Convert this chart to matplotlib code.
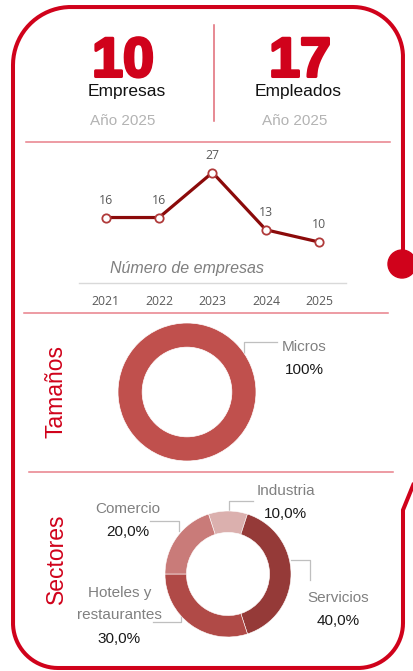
import numpy as np
import matplotlib
matplotlib.use("Agg")
import matplotlib.pyplot as plt
import matplotlib.patheffects as pe

# ---------------- data ----------------
years = ["2021", "2022", "2023", "2024", "2025"]
n_empresas = [16, 16, 27, 13, 10]

kpi_values = ["10", "17"]
kpi_labels = ["Empresas", "Empleados"]
kpi_sub = ["Año 2025", "Año 2025"]

size_labels = ["Micros"]
size_values = [100]

sector_labels = ["Industria", "Servicios", "Hoteles y\nrestaurantes", "Comercio"]
sector_values = [10, 40, 30, 20]
sector_colors = ["#dbb0ae", "#953a38", "#b04a47", "#c97b79"]

# ---------------- figure ----------------
W, H = 414, 671
fig = plt.figure(figsize=(W / 100, H / 100), dpi=100)
fig.patch.set_facecolor("white")

ov = fig.add_axes([0, 0, 1, 1], zorder=0)
ov.set_xlim(0, W)
ov.set_ylim(H, 0)
ov.axis("off")
ov.patch.set_alpha(0)

RED = "#d0021b"
SEP = "#e8808a"
FONT = "Liberation Sans"


def arc(cx, cy, r, a0, a1, n=40):
    t = np.radians(np.linspace(a0, a1, n))
    return cx + r * np.cos(t), cy + r * np.sin(t)


# ---- outer border (screen coords, y down) ----
L, T, R, B = 13, 7, 403, 668
rtl, rtr, rbl, rbr = 58, 50, 45, 45
x1, y1 = arc(R - rtr, T + rtr, rtr, 0, -90)
x2, y2 = arc(L + rtl, T + rtl, rtl, -90, -180)
x3, y3 = arc(L + rbl, B - rbl, rbl, 180, 90)
x4, y4 = arc(R - rbr, B - rbr, rbr, 90, 0)
bx = np.concatenate([[R], x1, x2, x3, x4, [R, 414]])
by = np.concatenate([[255], y1, y2, y3, y4, [510, 483]])
ov.plot(bx, by, color=RED, lw=2.9, solid_capstyle="butt", solid_joinstyle="miter")
ov.add_patch(plt.Circle((402, 264), 14, color=RED, zorder=3))

# ---- separators ----
ov.plot([214, 214], [25, 121], color="#e06a75", lw=1.1)
ov.plot([26, 390], [142, 142], color=SEP, lw=1.1)
ov.plot([24, 388], [313, 313], color=SEP, lw=1.1)
ov.plot([29, 393], [472, 472], color=SEP, lw=1.1)

# ---- KPI block ----
for cx, v, lab, sub, lx, sx in zip([123, 300], kpi_values, kpi_labels, kpi_sub,
                                   [127, 298.5], [122.5, 294.5]):
    ov.text(cx, 76.5, v, ha="center", va="baseline", fontsize=40, color=RED,
            family=FONT, fontweight="bold",
            path_effects=[pe.withStroke(linewidth=2.2, foreground=RED)])
    ov.text(lx, 96, lab, ha="center", va="baseline", fontsize=12.5,
            color="#111111", family=FONT)
    ov.text(sx, 125, sub, ha="center", va="baseline", fontsize=11,
            color="#b3b3b3", family=FONT)

# ---- line chart ----
axl = fig.add_axes([79 / W, 1 - 283 / H, 267 / W, 133 / H], zorder=2)
axl.patch.set_alpha(0)
xpos = np.arange(len(years))
axl.plot(xpos, n_empresas, color="#8b0a0a", lw=2.3, marker="o", ms=6,
         mfc="white", mec="#b03a3a", mew=1.3, solid_joinstyle="miter", zorder=3)
for xi, v in zip(xpos, n_empresas):
    axl.annotate(str(v), (xi, v), xytext=(0, 12.5), textcoords="offset points",
                 ha="center", va="center", fontsize=8.8, color="#595959",
                 family="Open Sans")
axl.set_xlim(-0.5, len(years) - 0.5)
axl.set_ylim(0, 32.5)
axl.set_xticks(xpos)
axl.set_xticklabels(years, fontsize=8.8, color="#595959", family="Open Sans")
axl.tick_params(axis="x", length=0, pad=8.5)
axl.set_yticks([])
for s in ["top", "left", "right"]:
    axl.spines[s].set_visible(False)
axl.spines["bottom"].set_color("#d9d9d9")
axl.spines["bottom"].set_linewidth(1.0)
ov.text(187, 273, "Número de empresas", ha="center", va="baseline",
        fontsize=11.5, style="italic", color="#7f7f7f", family=FONT)

# ---- Tamaños donut ----
ov.text(56, 392, "Tamaños", rotation=90, ha="center", va="center",
        fontsize=16.5, color=RED, family=FONT)
r1 = 69
axp = fig.add_axes([(187 - r1) / W, 1 - (392 + r1) / H, 2 * r1 / W, 2 * r1 / H], zorder=2)
axp.pie(size_values, colors=["#c0504d"], startangle=90, counterclock=False,
        radius=1, wedgeprops=dict(width=0.35, edgecolor="white", linewidth=0.5))
axp.set_xlim(-1, 1)
axp.set_ylim(-1, 1)
axp.set_aspect("equal")
axp.axis("off")
GRAYL = "#bfbfbf"
ov.plot([244, 244, 277], [353, 342, 342], color=GRAYL, lw=0.9)
ov.text(304, 351, size_labels[0], ha="center", va="baseline", fontsize=11,
        color="#808080", family=FONT)
ov.text(304, 374, f"{size_values[0]}%", ha="center", va="baseline", fontsize=11,
        color="#1a1a1a", family=FONT)

# ---- Sectores donut ----
ov.text(56, 559, "Sectores", rotation=90, ha="center", va="center",
        fontsize=16.5, color=RED, family=FONT)
r2 = 63
axs = fig.add_axes([(228 - r2) / W, 1 - (574 + r2) / H, 2 * r2 / W, 2 * r2 / H], zorder=2)
total = sum(sector_values)
axs.pie(sector_values, colors=sector_colors,
        startangle=90 + 180 * sector_values[0] / total, counterclock=False,
        radius=1, wedgeprops=dict(width=0.34, edgecolor="white", linewidth=0.4))
axs.set_xlim(-1, 1)
axs.set_ylim(-1, 1)
axs.set_aspect("equal")
axs.axis("off")

# leader lines & labels (layout positions)
leaders = [
    ([229, 229, 253], [511, 501, 501]),
    ([291, 310, 310], [560, 560, 580]),
    ([153, 181, 181], [622, 622, 615]),
    ([150, 179, 179], [521, 521, 531]),
]
for lx, ly in leaders:
    ov.plot(lx, ly, color=GRAYL, lw=0.9)

lab_pos = [(285.5, 495, 518), (338.5, 602, 625), (119.5, 597, 643), (128, 513, 536)]
for (cx, yb, vb), lab, v in zip(lab_pos, sector_labels, sector_values):
    if "\n" in lab:
        a, b = lab.split("\n")
        ov.text(cx, yb, a, ha="center", va="baseline", fontsize=11,
                color="#808080", family=FONT)
        ov.text(cx, yb + 22, b, ha="center", va="baseline", fontsize=11,
                color="#808080", family=FONT)
    else:
        ov.text(cx, yb, lab, ha="center", va="baseline", fontsize=11,
                color="#808080", family=FONT)
    ov.text(cx, vb, f"{v:.1f}%".replace(".", ","), ha="center", va="baseline",
            fontsize=11, color="#1a1a1a", family=FONT)

fig.savefig("out.png", dpi=100)
